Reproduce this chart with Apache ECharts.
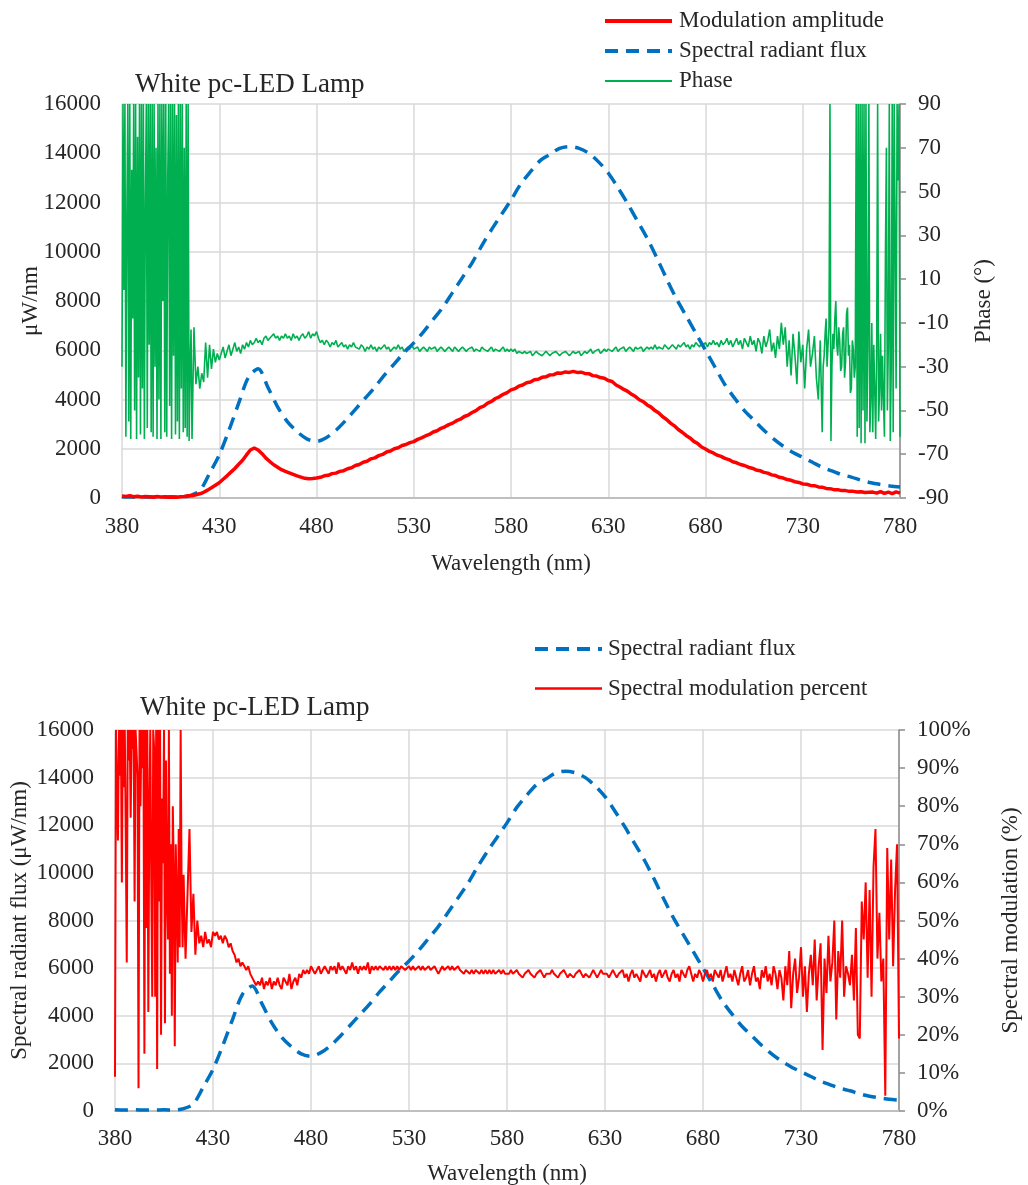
<!DOCTYPE html>
<html>
<head>
<meta charset="utf-8">
<script src="https://cdn.jsdelivr.net/npm/echarts@6/dist/echarts.min.js"></script>
<style>
html,body{margin:0;padding:0;background:#fff;}
#chart{width:1028px;height:1185px;}
</style>
</head>
<body>
<div id="chart"></div>
<script>
// ---------------- DATA ----------------
const WL_START = 380;          // nm
const WL_END = 780;            // nm
const xTicks = [380, 430, 480, 530, 580, 630, 680, 730, 780];
const fluxTicks = [0, 2000, 4000, 6000, 8000, 10000, 12000, 14000, 16000];
const phaseTicks = [-90, -70, -50, -30, -10, 10, 30, 50, 70, 90];
const pctTicks = [0, 10, 20, 30, 40, 50, 60, 70, 80, 90, 100];

// Spectral radiant flux (µW/nm), every 5 nm from 380 to 780
const FLUX_STEP = 5;
const spectralFlux = [
  50, 40, 50, 40, 40, 50, 40, 100, 300, 1000,
  1750, 2750, 3850, 4900, 5250, 4500, 3700, 3100, 2700, 2400,
  2300, 2450, 2750, 3150, 3600, 4050, 4500, 5000, 5450, 5900,
  6300, 6750, 7250, 7750, 8350, 8950, 9550, 10250, 10900, 11500,
  12100, 12750, 13250, 13700, 13950, 14200, 14270, 14200, 14000, 13650,
  13200, 12600, 11950, 11250, 10550, 9750, 8900, 8100, 7400, 6700,
  6000, 5300, 4600, 4050, 3550, 3150, 2750, 2400, 2100, 1850,
  1650, 1450, 1250, 1100, 950, 850, 720, 620, 550, 490,
  450
];

// Modulation amplitude (µW/nm), every 2 nm from 380 to 780
const AMP_STEP = 2;
const modulationAmplitude = [
  // 380-414
  80, 60, 90, 50, 70, 40, 60, 50, 30, 60, 40, 50, 30, 40, 30, 50, 60, 90,
  // 416-448
  90, 130, 170, 230, 320, 420, 520, 620, 760, 900, 1050, 1200, 1370, 1530, 1750, 1950, 2030,
  // 450-480
  1950, 1800, 1620, 1480, 1350, 1250, 1150, 1080, 1020, 960, 900, 850, 800, 780, 790, 810,
  // 482-530
  840, 900, 920, 990, 1010, 1080, 1110, 1190, 1230, 1320, 1360, 1450, 1490, 1590, 1630, 1720, 1770, 1870, 1910, 2000, 2040, 2130, 2170, 2250, 2290,
  // 532-580
  2380, 2440, 2520, 2580, 2680, 2730, 2830, 2890, 2980, 3040, 3140, 3200, 3310, 3370, 3470, 3550, 3670, 3730, 3850, 3920, 4040, 4110, 4210, 4280, 4390,
  // 582-630
  4440, 4540, 4590, 4680, 4710, 4800, 4820, 4900, 4920, 5000, 5010, 5080, 5070, 5120, 5100, 5140, 5100, 5110, 5060, 5050, 4970, 4950, 4890, 4860, 4770,
  // 632-680
  4730, 4590, 4510, 4410, 4330, 4210, 4120, 3990, 3910, 3780, 3690, 3550, 3450, 3300, 3190, 3040, 2930, 2780, 2670, 2540, 2440, 2300, 2210, 2070, 1990,
  // 682-730
  1890, 1830, 1740, 1690, 1610, 1560, 1470, 1430, 1360, 1320, 1250, 1210, 1140, 1110, 1040, 1010, 940, 910, 840, 810, 750, 720, 660, 630, 570,
  // 732-780
  560, 510, 500, 450, 440, 390, 380, 340, 340, 300, 300, 270, 270, 240, 250, 220, 230, 240, 200, 260, 190, 240, 180, 250, 200
];

// Phase (degrees): 380-416 every 0.5 nm, 417-739 every 1 nm, 740-780 every 0.5 nm
const phaseLow = [
  -30, 90, 5, 90, -62, 40, 90, -55, 90, -63,
  60, -8, 90, -50, 90, -63, 75, -35, 90, -61,
  90, -40, 90, -63, 45, 90, -58, 90, -20, 90,
  -60, 90, -62, 90, -30, 70, -63, 90, -45, 90,
  -63, 90, 0, 90, -60, 90, -62, 55, 90, -48,
  90, -63, 90, -25, 90, -61, 85, -55, 90, -63,
  90, -40, 90, -60, 70, -58, 90, -62, 90, -64,
  -30, -13, -63
];
const phaseMid = [
  // 417-430
  -12, -38, -30, -40, -33, -37, -19, -35, -20, -31, -22, -28, -24, -27,
  // 431-450
  -24, -21, -26, -23, -20, -25, -22, -19, -23, -21, -24, -20, -22, -19, -21, -18, -20, -19, -17, -19,
  // 451-480
  -18, -20, -17, -16, -18, -17, -16, -15, -17, -16,
  -18, -16, -17, -15, -17, -16, -18, -15, -17, -16,
  -18, -16, -15, -17, -16, -14, -17, -15, -16, -14,
  // 481-500
  -17, -19, -18, -20, -18, -19, -21, -19, -20, -18, -21, -20, -19, -21, -20, -22, -20, -21, -19, -21,
  // 501-530
  -21, -22, -20, -21, -23, -21, -22, -20, -22, -21,
  -23, -21, -22, -21, -20, -22, -21, -23, -22, -21,
  -22, -20, -22, -21, -23, -22, -21, -22, -20, -22,
  // 531-580
  -22, -21, -23, -22, -21, -22, -23, -21, -22, -22,
  -21, -23, -22, -21, -22, -23, -22, -21, -22, -23,
  -21, -22, -23, -22, -21, -22, -23, -22, -22, -21,
  -23, -22, -22, -23, -21, -22, -22, -23, -22, -21,
  -23, -22, -22, -23, -22, -21, -23, -22, -23, -22,
  // 581-630
  -23, -22, -24, -23, -23, -24, -23, -24, -24, -23,
  -25, -24, -23, -24, -24, -25, -24, -23, -24, -25,
  -24, -24, -23, -24, -25, -24, -24, -23, -24, -25,
  -24, -23, -24, -24, -23, -25, -24, -23, -24, -23,
  -22, -24, -23, -23, -22, -24, -23, -22, -23, -22,
  // 631-680
  -22, -23, -22, -21, -23, -22, -22, -21, -23, -22,
  -21, -22, -23, -21, -22, -22, -21, -23, -22, -21,
  -22, -21, -22, -20, -22, -21, -21, -22, -20, -21,
  -22, -21, -20, -21, -22, -20, -21, -20, -19, -21,
  -20, -22, -20, -21, -19, -20, -21, -19, -20, -19,
  // 681-719
  -21, -19, -20, -18, -20, -19, -21, -18, -20, -19,
  -17, -20, -18, -21, -19, -17, -20, -18, -22, -17,
  -19, -21, -16, -20, -18, -23, -17, -19, -24, -16,
  -21, -18, -13, -23, -19, -26, -16, -22, -10,
  // 720-739
  -20, -12, -30, -18, -34, -15, -25, -38, -14, -28,
  -20, -40, -22, -13, -30, -24, -16, -35, -45, -18
];
const phaseHigh = [
  -60, -30, -25, -15, -8, -30, -20, -12, 90, -64,
  -30, -15, -22, -8, 0, -20, -25, -12, -18, -32,
  -30, -15, -12, -35, -28, -6, -3, -25, -20, -42,
  -40, -18, -22, -35, -30, 90, -62, 90, -58, 90,
  -65, 90, -50, 90, -65, 90, -55, -20, 90, -60,
  -45, -10, -60, -20, -40, -63, -25, 90, -55, -40,
  -15, -50, -25, -45, -62, 20, 70, -50, -20, 90,
  -64, -30, 90, -60, 90, 30, -40, 90, 55, 90,
  -62
];

// Spectral modulation percent (%): 380-416 every 0.5 nm, 417-780 every 1 nm
const pctLow = [
  9, 100, 100, 71, 100, 88, 100, 60, 100, 85,
  100, 72, 39, 100, 92, 100, 77, 100, 95, 100,
  55, 100, 100, 88, 6, 100, 80, 100, 90, 100,
  15, 100, 48, 100, 26, 78, 100, 60, 30, 100,
  95, 30, 100, 11, 100, 55, 100, 20, 82, 65,
  100, 23, 92, 58, 45, 100, 36, 70, 25, 80,
  62, 17, 70, 55, 39, 74, 43, 100, 58, 43,
  62, 50, 40
];
const pctRest = [
  // 417-430
  40, 74, 47, 57, 41, 50, 44, 46, 43, 47, 44, 45, 43, 47,
  // 431-460
  46, 47, 45, 46, 44, 46, 45, 43, 44, 42, 41, 39, 40, 38, 39, 38, 37, 38, 36, 35,
  34, 33, 34, 33, 35, 32, 34, 33, 35, 32,
  // 461-490
  34, 33, 35, 33, 32, 35, 34, 33, 36, 32, 34, 35, 33, 36, 35, 37, 36, 37, 36, 38,
  37, 36, 37, 38, 36, 37, 38, 37, 36, 38,
  // 491-530
  37, 38, 36, 39, 37, 38, 37, 36, 38, 37, 39, 37, 38, 36, 38, 37, 38, 37, 39, 36,
  38, 37, 38, 37, 38, 38, 37, 38, 37, 38, 37, 38, 37, 38, 37, 38, 38, 37, 37, 38,
  // 531-580
  37, 38, 37, 37, 38, 37, 38, 37, 37, 38, 37, 37, 38, 37, 36, 37, 38, 37, 37, 38,
  37, 38, 37, 37, 38, 37, 37, 36, 37, 37, 36, 37, 36, 37, 37, 36, 37, 36, 37, 36,
  37, 36, 37, 36, 36, 37, 36, 37, 36, 36,
  // 581-630
  36, 37, 36, 36, 37, 36, 36, 35, 36, 36, 37, 36, 36, 35, 36, 36, 37, 36, 35, 36,
  36, 36, 37, 36, 36, 35, 36, 36, 37, 36, 35, 36, 36, 35, 36, 36, 37, 36, 35, 36,
  36, 35, 36, 37, 36, 35, 36, 37, 36, 36,
  // 631-680
  36, 35, 36, 37, 36, 35, 36, 36, 37, 35, 36, 34, 36, 37, 35, 36, 36, 34, 37, 36,
  35, 36, 37, 35, 36, 34, 36, 37, 35, 36, 37, 35, 34, 36, 37, 35, 36, 34, 37, 36,
  35, 37, 38, 36, 34, 36, 35, 37, 36, 34,
  // 681-720
  36, 37, 35, 36, 34, 37, 36, 35, 37, 34, 36, 38, 35, 36, 34, 37, 35, 33, 36, 38,
  34, 35, 37, 33, 36, 38, 34, 35, 32, 37, 35, 38, 34, 36, 33, 38, 36, 32, 37, 35,
  // 721-760
  29, 38, 33, 42, 27, 36, 40, 31, 35, 43, 30, 38, 26, 36, 41, 33, 45, 29, 38, 44,
  16, 40, 31, 46, 34, 39, 50, 24, 42, 35, 50, 30, 38, 36, 33, 41, 29, 48, 20, 19,
  // 761-780
  55, 45, 60, 35, 58, 30, 64, 74, 40, 52, 34, 40, 4, 69, 45, 66, 38, 58, 70, 19
];

const titleText = 'White pc-LED Lamp';

// ---------------- BUILD ----------------
const PHASE_OFFSET = 90; // right axis drawn on 0..180 so ticks land on -90,-70,...
function pairs(arr, startNm, step, offsetY) {
  return arr.map((v, i) => [startNm - WL_START + i * step, v + (offsetY || 0)]);
}
const phaseData = [].concat(
  pairs(phaseLow, 380, 0.5, PHASE_OFFSET),
  pairs(phaseMid, 417, 1, PHASE_OFFSET),
  pairs(phaseHigh, 740, 0.5, PHASE_OFFSET)
);
const pctData = [].concat(pairs(pctLow, 380, 0.5), pairs(pctRest, 417, 1));

const FONT = 'Liberation Serif';
const TXT = '#262626';
const GRID_C = '#d9d9d9';

const baseLabel = { fontFamily: FONT, fontSize: 23, color: TXT };
const nameStyle = { fontFamily: FONT, fontSize: 23, color: TXT };
const xSpan = WL_END - WL_START;
const xInterval = xTicks[1] - xTicks[0];

function makeX(gridIndex, margin, nameGap) {
  return {
    type: 'value', gridIndex, min: 0, max: xSpan, interval: xInterval,
    name: 'Wavelength (nm)', nameLocation: 'middle', nameGap, nameMoveOverlap: false,
    nameTextStyle: nameStyle,
    axisLine: { show: true, lineStyle: { color: '#bfbfbf', width: 2 } },
    axisTick: { show: false },
    axisLabel: Object.assign({ margin, formatter: v => String(v + WL_START) }, baseLabel),
    splitLine: { show: true, lineStyle: { color: GRID_C, width: 1.5 } }
  };
}
const legendText = { fontFamily: FONT, fontSize: 23, lineHeight: 23, color: TXT };

const option = {
  animation: false,
  backgroundColor: '#fff',
  title: [
    { text: titleText, left: 135, top: 71, padding: 0,
      textStyle: { fontFamily: FONT, fontSize: 27, fontWeight: 'normal', color: TXT } },
    { text: titleText, left: 140, top: 694, padding: 0,
      textStyle: { fontFamily: FONT, fontSize: 27, fontWeight: 'normal', color: TXT } }
  ],
  legend: [
    { orient: 'vertical', left: 603, top: 9.5, padding: 0, itemGap: 7,
      itemWidth: 67, itemHeight: 20,
      itemStyle: { opacity: 0 },
      data: [
        { name: 'Modulation amplitude', lineStyle: { width: 4 } },
        { name: 'Spectral radiant flux', lineStyle: { width: 4 } },
        { name: 'Phase', lineStyle: { width: 2 } }
      ],
      textStyle: Object.assign({ padding: [0, 0, 0, 2] }, legendText) },
    { orient: 'vertical', left: 533, top: 637.5, padding: 0, itemGap: 16.5,
      itemWidth: 67, itemHeight: 20,
      itemStyle: { opacity: 0 },
      data: [
        { name: 'Spectral radiant flux ', lineStyle: { width: 4 } },
        { name: 'Spectral modulation percent', lineStyle: { width: 2.5 } }
      ],
      textStyle: Object.assign({ padding: [0, 0, 0, 1] }, legendText) }
  ],
  grid: [
    { left: 122, top: 104, width: 778, height: 394, containLabel: false, outerBoundsMode: 'none' },
    { left: 115, top: 730, width: 784, height: 381, containLabel: false, outerBoundsMode: 'none' }
  ],
  xAxis: [ makeX(0, 17, 54), makeX(1, 16, 51) ],
  yAxis: [
    { type: 'value', gridIndex: 0, min: fluxTicks[0], max: fluxTicks[fluxTicks.length - 1],
      interval: fluxTicks[1] - fluxTicks[0], position: 'left',
      name: 'μW/nm', nameLocation: 'middle', nameGap: 80, nameRotate: 90, nameMoveOverlap: false,
      nameTextStyle: nameStyle,
      axisLine: { show: false }, axisTick: { show: false },
      axisLabel: Object.assign({ margin: 21, formatter: v => String(v) }, baseLabel),
      splitLine: { show: true, lineStyle: { color: GRID_C, width: 1.5 } } },
    { type: 'value', gridIndex: 0, min: 0, max: phaseTicks[phaseTicks.length - 1] - phaseTicks[0],
      interval: phaseTicks[1] - phaseTicks[0], position: 'right',
      name: 'Phase (°)', nameLocation: 'middle', nameGap: 72, nameRotate: 90, nameMoveOverlap: false,
      nameTextStyle: nameStyle,
      axisLine: { show: true, lineStyle: { color: '#8c8c8c', width: 1.5 } },
      axisTick: { show: true, inside: false, length: 6, lineStyle: { color: '#8c8c8c', width: 1.5 } },
      axisLabel: Object.assign({ margin: 18, formatter: v => String(v - PHASE_OFFSET) }, baseLabel),
      splitLine: { show: false } },
    { type: 'value', gridIndex: 1, min: fluxTicks[0], max: fluxTicks[fluxTicks.length - 1],
      interval: fluxTicks[1] - fluxTicks[0], position: 'left',
      name: 'Spectral radiant flux (μW/nm)', nameLocation: 'middle', nameGap: 84, nameRotate: 90, nameMoveOverlap: false,
      nameTextStyle: nameStyle,
      axisLine: { show: false }, axisTick: { show: false },
      axisLabel: Object.assign({ margin: 21, formatter: v => String(v) }, baseLabel),
      splitLine: { show: true, lineStyle: { color: GRID_C, width: 1.5 } } },
    { type: 'value', gridIndex: 1, min: pctTicks[0], max: pctTicks[pctTicks.length - 1],
      interval: pctTicks[1] - pctTicks[0], position: 'right',
      name: 'Spectral modulation (%)', nameLocation: 'middle', nameGap: 100, nameRotate: 90, nameMoveOverlap: false,
      nameTextStyle: nameStyle,
      axisLine: { show: true, lineStyle: { color: '#8c8c8c', width: 1.5 } },
      axisTick: { show: true, inside: false, length: 6, lineStyle: { color: '#8c8c8c', width: 1.5 } },
      axisLabel: Object.assign({ margin: 18, formatter: v => v + '%' }, baseLabel),
      splitLine: { show: false } }
  ],
  series: [
    { name: 'Modulation amplitude', type: 'line', xAxisIndex: 0, yAxisIndex: 0,
      data: pairs(modulationAmplitude, 380, AMP_STEP), showSymbol: false, symbol: 'none',
      lineStyle: { color: '#ff0000', width: 3.5 }, itemStyle: { color: '#ff0000' }, z: 4 },
    { name: 'Spectral radiant flux', type: 'line', xAxisIndex: 0, yAxisIndex: 0,
      data: pairs(spectralFlux, 380, FLUX_STEP), smooth: 0.3, showSymbol: false, symbol: 'none',
      lineStyle: { color: '#0070c0', width: 3.5, type: [13, 8] }, itemStyle: { color: '#0070c0' }, z: 3 },
    { name: 'Phase', type: 'line', xAxisIndex: 0, yAxisIndex: 1,
      data: phaseData, showSymbol: false, symbol: 'none',
      lineStyle: { color: '#00b050', width: 1.6 }, itemStyle: { color: '#00b050' }, z: 2 },
    { name: 'Spectral radiant flux ', type: 'line', xAxisIndex: 1, yAxisIndex: 2,
      data: pairs(spectralFlux, 380, FLUX_STEP), smooth: 0.3, showSymbol: false, symbol: 'none',
      lineStyle: { color: '#0070c0', width: 3.5, type: [13, 8] }, itemStyle: { color: '#0070c0' }, z: 2 },
    { name: 'Spectral modulation percent', type: 'line', xAxisIndex: 1, yAxisIndex: 3,
      data: pctData, showSymbol: false, symbol: 'none',
      lineStyle: { color: '#ff0000', width: 2 }, itemStyle: { color: '#ff0000' }, z: 3 }
  ]
};

const chart = echarts.init(document.getElementById('chart'), null, { renderer: 'canvas' });
chart.setOption(option);
</script>
</body>
</html>
